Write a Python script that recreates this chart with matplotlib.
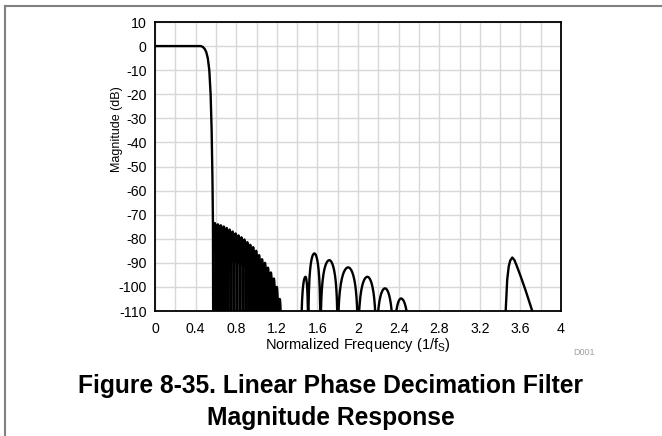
import numpy as np
import matplotlib
matplotlib.use("Agg")
import matplotlib.pyplot as plt
from matplotlib.lines import Line2D
from matplotlib.ticker import MultipleLocator

plt.rcParams['font.family'] = ['Liberation Sans', 'DejaVu Sans']
plt.rcParams['mathtext.default'] = 'regular'
plt.rcParams['axes.unicode_minus'] = False

# ---- data ----
# passband + transition band (freq, dB)
pass_x = [0.0, 0.2, 0.40, 0.45, 0.47, 0.49, 0.505, 0.52, 0.535, 0.548, 0.558, 0.566, 0.571, 0.575]
pass_db = [0.0, 0.0, 0.0, 0.0, -0.3, -1.2, -2.5, -5.0, -10.0, -20.0, -35.0, -55.0, -74.0, -150.0]

# dense stopband lobes: nulls and peak levels
dense_nulls = [0.575, 0.605, 0.634, 0.663, 0.692, 0.721, 0.750, 0.779, 0.808, 0.837, 0.866,
               0.895, 0.924, 0.953, 0.982, 1.011, 1.040, 1.069, 1.098, 1.127, 1.156, 1.185,
               1.214, 1.243]
dense_peak_db = [-73.5, -74.0, -74.4, -74.9, -75.5, -76.2, -77.0, -77.8, -78.6, -79.4, -80.3,
                 -81.4, -82.5, -83.5, -85.0, -86.8, -88.5, -90.0, -92.0, -94.0, -96.5, -100.0,
                 -105.0]

# wider stopband lobes
mid_start = [1.44, 1.51, 1.63, 1.80, 2.00, 2.18, 2.35]
mid_peak_x = [1.483, 1.57, 1.717, 1.903, 2.092, 2.266, 2.424]
mid_peak_db = [-95.8, -86.1, -88.9, -91.9, -95.8, -100.6, -104.8]
mid_end = [1.51, 1.63, 1.80, 2.00, 2.18, 2.35, 2.51]

# image lobe near 3.5
img_x = [3.44, 3.455, 3.47, 3.485, 3.50, 3.52, 3.54, 3.56, 3.60, 3.65, 3.70, 3.717, 3.73]
img_db = [-150, -110.0, -97.0, -91.5, -89.0, -87.8, -88.8, -90.8, -95.3, -101.3, -107.8, -110.0, -150]

xticks = [0, 0.4, 0.8, 1.2, 1.6, 2, 2.4, 2.8, 3.2, 3.6, 4]
xticklabels = ['0', '0.4', '0.8', '1.2', '1.6', '2', '2.4', '2.8', '3.2', '3.6', '4']
yticks = list(range(-110, 11, 10))


def lobe(a, pk, b, peak_db, n=40):
    x = np.linspace(a, b, n)
    u = np.where(x <= pk, 0.5 * (x - a) / (pk - a), 0.5 + 0.5 * (x - pk) / (b - pk))
    s = np.clip(np.sin(np.pi * u), 1e-8, None)
    return x, np.maximum(peak_db + 20 * np.log10(s), -150)


xs = [np.array(pass_x)]
ys = [np.array(pass_db)]
for i, p in enumerate(dense_peak_db):
    a, b = dense_nulls[i], dense_nulls[i + 1]
    lx, ly = lobe(a, 0.5 * (a + b), b, p, n=15)
    xs.append(lx); ys.append(ly)
xs.append(np.array([1.243, 1.44])); ys.append(np.array([-150, -150]))
for a, pk, b, p in zip(mid_start, mid_peak_x, mid_end, mid_peak_db):
    lx, ly = lobe(a, pk, b, p)
    xs.append(lx); ys.append(ly)
xs.append(np.array([2.51, 3.44])); ys.append(np.array([-150, -150]))
xs.append(np.array(img_x)); ys.append(np.array(img_db, dtype=float))
X = np.concatenate(xs)
Y = np.concatenate(ys)

fig = plt.figure(figsize=(6.62, 4.36), dpi=100)
ax = fig.add_axes([155 / 662, 1 - 311 / 436, (561 - 155) / 662, (311 - 22) / 436])
ax.plot(X, Y, color='black', lw=1.7, solid_joinstyle='round')
ax.set_xlim(0, 4)
ax.set_ylim(-110, 10)
ax.set_xticks(xticks)
ax.set_xticklabels(xticklabels)
ax.xaxis.set_minor_locator(MultipleLocator(0.2))
ax.set_yticks(yticks)
ax.grid(True, which='both', color='#d8d8d8', lw=1.0)
ax.set_axisbelow(True)
ax.tick_params(which='both', length=0, labelsize=10.2)
ax.tick_params(axis='x', pad=8)
ax.tick_params(axis='y', pad=6)
for sp in ax.spines.values():
    sp.set_linewidth(1.3)
    sp.set_color('black')
ax.set_xlabel('Normalized Frequency (1/f$_{S}$)', fontsize=10.5, labelpad=0)
ax.set_ylabel('Magnitude (dB)', fontsize=9)
ax.yaxis.set_label_coords(-0.08, 0.63)

fig.text(584 / 662, 1 - 352 / 436, 'D001', fontsize=6.5, color='#a0a0a0', ha='center', va='center')
fig.text(331 / 662, 1 - 386 / 436, 'Figure 8-35. Linear Phase Decimation Filter',
         fontsize=17.7, fontweight='bold', ha='center', va='center')
fig.text(331 / 662, 1 - 418 / 436, 'Magnitude Response',
         fontsize=17.7, fontweight='bold', ha='center', va='center')

fig.add_artist(Line2D([4.5 / 662, 4.5 / 662], [0, 1 - 6 / 436], color='#808080', lw=1.5, transform=fig.transFigure))
fig.add_artist(Line2D([4.5 / 662, 1], [1 - 6 / 436, 1 - 6 / 436], color='#808080', lw=1.5, transform=fig.transFigure))

fig.savefig('out.png', dpi=100)
